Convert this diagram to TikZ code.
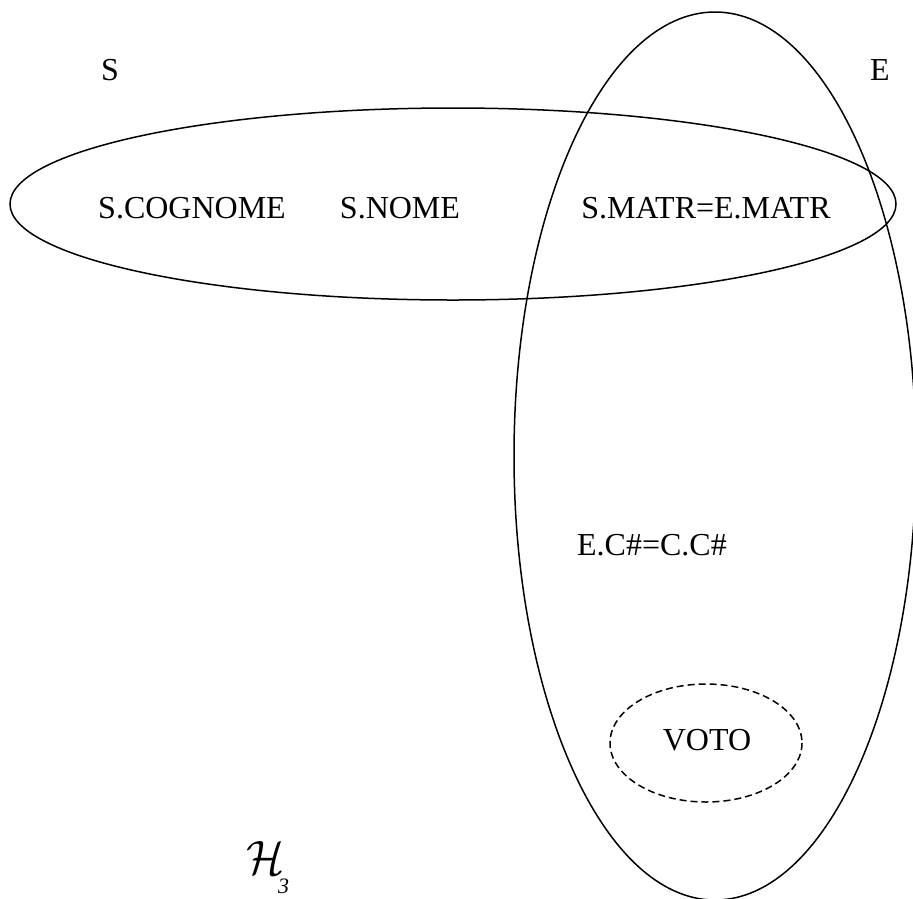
\documentclass[tikz,border=0pt]{standalone}
\usepackage{fontspec}
\usepackage{graphicx}
\setmainfont{Liberation Serif}
\begin{document}
\begin{tikzpicture}[x=1pt,y=-1pt,
  lab/.style={inner sep=0pt,font=\fontsize{32}{38}\selectfont},
  set/.style={draw=black,line width=1.5pt},
  subset/.style={draw=black,line width=1.5pt,dash pattern=on 7pt off 4pt}]
\useasboundingbox (0,0) rectangle (913,898);
\clip (0,0) rectangle (913,898);
% hyperedges
\draw[set] (453,204) ellipse [x radius=443, y radius=96];
\draw[set] (715,456) ellipse [x radius=201, y radius=444];
\draw[subset] (706,743) ellipse [x radius=96, y radius=59];
% labels
\node[lab] (S) at (110,70) {S};
\node[lab] (E) at (880,70) {E};
\node[lab] (cogn) at (192,208) {S.COGNOME};
\node[lab] (nome) at (400,208) {S.NOME};
\node[lab] (matr) at (706,208) {S.MATR=E.MATR};
\node[lab] (cc) at (652,545) {E.C\#=C.C\#};
\node[lab] (voto) at (707,740) {VOTO};
\node[inner sep=0pt,anchor=base west] (H) at (246,874)
  {\resizebox{38pt}{33pt}{$\mathcal{H}$}\hspace{-6pt}\raisebox{-19pt}{\fontsize{22}{22}\selectfont\itshape 3}};
\end{tikzpicture}
\end{document}
